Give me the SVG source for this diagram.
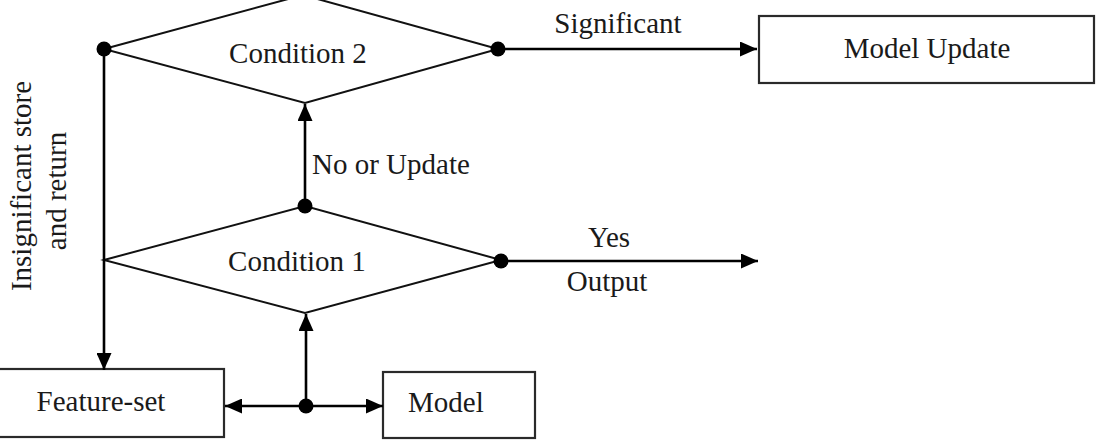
<svg xmlns="http://www.w3.org/2000/svg" width="1099" height="447" viewBox="0 0 1099 447">
<style>
text{font-family:"Liberation Serif","Times New Roman",serif;font-size:29px;fill:#1a1a1a}
.box{fill:#fff;stroke:#2a2a2a;stroke-width:2.2}
.dia{fill:none;stroke:#111;stroke-width:2}
.ln{fill:none;stroke:#000;stroke-width:2.6}
.arr{marker-end:url(#ah)}
.dot{fill:#000}
</style>
<defs>
<marker id="ah" markerWidth="17" markerHeight="15" refX="17" refY="7.5" orient="auto" markerUnits="userSpaceOnUse">
<path d="M0,0 L17,7.5 L0,15 z" fill="#000"/>
</marker>
</defs>
<g id="condition2">
<polygon class="dia" points="104,49 303,-5 498,49 305,103"/>
<text x="298" y="63" text-anchor="middle">Condition 2</text>
</g>
<g id="condition1">
<polygon class="dia" points="104,260 305,206 501,260 305,313"/>
<text x="297" y="271" text-anchor="middle">Condition 1</text>
</g>
<g id="model-update">
<rect class="box" x="759" y="16" width="335" height="67"/>
<text x="927" y="58" text-anchor="middle">Model Update</text>
</g>
<g id="feature-set">
<rect class="box" x="-2" y="369" width="226" height="68"/>
<text x="101" y="411" text-anchor="middle">Feature-set</text>
</g>
<g id="model">
<rect class="box" x="383" y="372" width="152" height="66"/>
<text x="408" y="412">Model</text>
</g>
<g id="connectors">
<line class="ln arr" x1="498" y1="49" x2="757" y2="49"/>
<line class="ln arr" x1="501" y1="261" x2="758" y2="261"/>
<line class="ln arr" x1="305" y1="206" x2="305" y2="104"/>
<line class="ln arr" x1="104" y1="49" x2="104" y2="370"/>
<line class="ln arr" x1="306" y1="406" x2="306" y2="314"/>
<line class="ln arr" x1="306" y1="406" x2="225" y2="406"/>
<line class="ln arr" x1="306" y1="406" x2="383" y2="406"/>
<circle class="dot" cx="104" cy="49" r="7.5"/>
<circle class="dot" cx="498" cy="49" r="7.5"/>
<circle class="dot" cx="305" cy="206" r="7.5"/>
<circle class="dot" cx="501" cy="261" r="7.5"/>
<circle class="dot" cx="306" cy="406" r="7.5"/>
<text x="618" y="33" text-anchor="middle">Significant</text>
<text x="312" y="174">No or Update</text>
<text x="609" y="247" text-anchor="middle">Yes</text>
<text x="607" y="291" text-anchor="middle">Output</text>
<text transform="translate(31,186) rotate(-90)" text-anchor="middle">Insignificant store</text>
<text transform="translate(66,191) rotate(-90)" text-anchor="middle">and return</text>
</g>
</svg>
